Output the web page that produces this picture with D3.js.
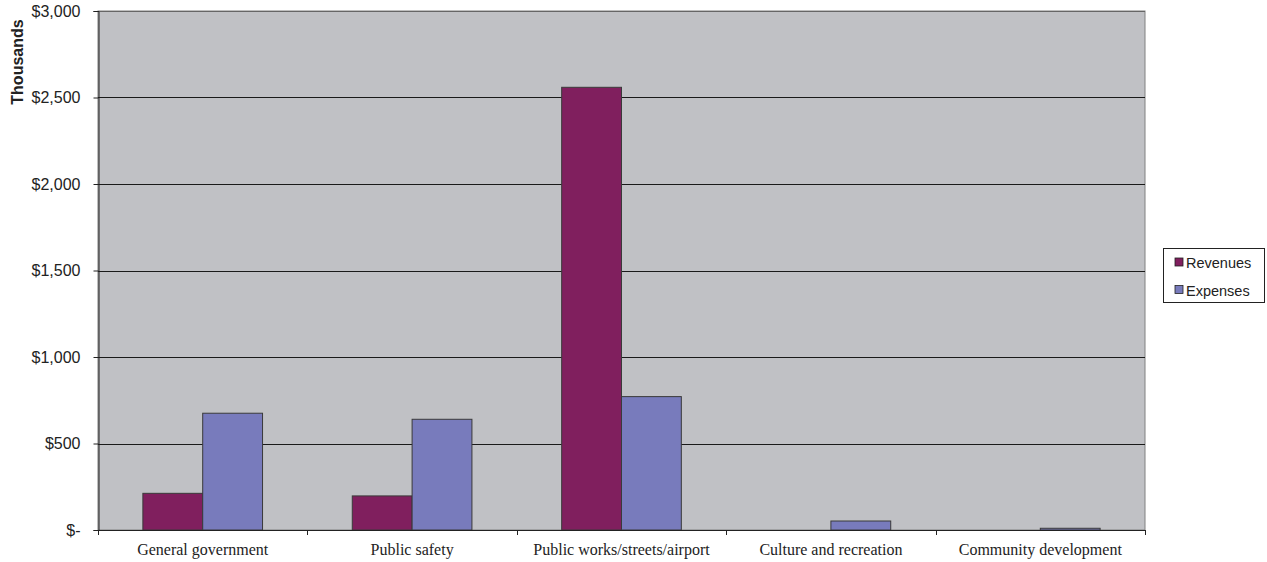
<!DOCTYPE html>
<html>
<head>
<meta charset="utf-8">
<script src="https://cdn.jsdelivr.net/npm/d3@7"></script>
<style>
  body { margin: 0; background: #fff; }
  svg { display: block; }
</style>
</head>
<body>
<div class="chart"></div>
<script>
// data (thousands of dollars)
var categories = ["General government", "Public safety", "Public works/streets/airport", "Culture and recreation", "Community development"];
var seriesNames = ["Revenues", "Expenses"];
var revenues = [212, 197, 2559, 0, 0];
var expenses = [675, 640, 771, 52, 10];
var yTicks = [0, 500, 1000, 1500, 2000, 2500, 3000];
var colors = ["#801f5e", "#787bbc"];

var width = 1267, height = 562;
// note: "top" is taken by window.top, so plot edges get their own names
var plotLeft = 98, plotRight = 1145, plotTop = 11, plotBottom = 530;

var svg = d3.select(".chart").append("svg")
    .attr("width", width)
    .attr("height", height);

var x0 = d3.scaleBand().domain(categories).range([plotLeft, plotRight]).padding(0);
var x1 = d3.scaleBand().domain(seriesNames).range([0, x0.bandwidth()])
    .paddingInner(0).paddingOuter(0.75);
var y = d3.scaleLinear().domain([0, 3000]).range([plotBottom, plotTop]);

// plot background
svg.append("rect")
    .attr("x", plotLeft).attr("y", plotTop)
    .attr("width", plotRight - plotLeft).attr("height", plotBottom - plotTop)
    .attr("fill", "#c0c1c5")
    .attr("stroke", "#808080").attr("stroke-width", 1);

// gridlines
svg.append("g").selectAll("line")
    .data(yTicks.filter(function(d){ return d > 0; }))
    .enter().append("line")
    .attr("x1", plotLeft).attr("x2", plotRight)
    .attr("y1", function(d){ return Math.round(y(d)) + 0.5; })
    .attr("y2", function(d){ return Math.round(y(d)) + 0.5; })
    .attr("stroke", function(d){ return d === 3000 ? "#666" : "#1a1a1a"; })
    .attr("stroke-width", 1);

// bars
var rows = categories.map(function(c, i) {
    return { cat: c, values: [revenues[i], expenses[i]] };
});

var groups = svg.append("g").selectAll("g")
    .data(rows).enter().append("g")
    .attr("transform", function(d){ return "translate(" + x0(d.cat) + ",0)"; });

groups.selectAll("rect")
    .data(function(d){ return d.values.map(function(v, j){ return { key: seriesNames[j], v: v, j: j }; }); })
    .enter().filter(function(d){ return d.v > 0; })
    .append("rect")
    .attr("x", function(d){ return x1(d.key); })
    .attr("width", x1.bandwidth())
    .attr("y", function(d){ return y(d.v); })
    .attr("height", function(d){ return plotBottom - y(d.v); })
    .attr("fill", function(d){ return colors[d.j]; })
    .attr("stroke", "#3a3a3a")
    .attr("stroke-width", 1);

// y axis
var yAxis = d3.axisLeft(y)
    .tickValues(yTicks)
    .tickSize(5)
    .tickPadding(13)
    .tickFormat(function(d){ return d === 0 ? "$-" : "$" + d3.format(",")(d); });

var ya = svg.append("g")
    .attr("transform", "translate(" + (plotLeft + 0.5) + ",0)")
    .call(yAxis);
ya.selectAll("text")
    .attr("font-family", "Arial, 'Liberation Sans', sans-serif")
    .attr("font-size", 16)
    .attr("fill", "#222");
ya.selectAll("line, path").attr("stroke", "#222");

// x axis: ticks on category boundaries
var xa = svg.append("g");
xa.append("line")
    .attr("x1", plotLeft).attr("x2", plotRight)
    .attr("y1", plotBottom + 0.5).attr("y2", plotBottom + 0.5)
    .attr("stroke", "#222");
var bounds = categories.map(function(c){ return x0(c); }).concat([plotRight]);
xa.selectAll(".tk").data(bounds).enter().append("line")
    .attr("class", "tk")
    .attr("x1", function(d){ return Math.round(d) + 0.5; })
    .attr("x2", function(d){ return Math.round(d) + 0.5; })
    .attr("y1", plotBottom).attr("y2", plotBottom + 5)
    .attr("stroke", "#222");
xa.selectAll("text").data(categories).enter().append("text")
    .attr("x", function(d){ return x0(d) + x0.bandwidth() / 2; })
    .attr("y", 555)
    .attr("text-anchor", "middle")
    .attr("font-family", "'Times New Roman', 'Liberation Serif', serif")
    .attr("font-size", 16)
    .attr("fill", "#222")
    .text(function(d){ return d; });

// axis title
svg.append("text")
    .attr("transform", "translate(23,62) rotate(-90)")
    .attr("text-anchor", "middle")
    .attr("font-family", "Arial, 'Liberation Sans', sans-serif")
    .attr("font-weight", "bold")
    .attr("font-size", 16)
    .attr("fill", "#222")
    .text("Thousands");

// legend
var legend = svg.append("g");
legend.append("rect")
    .attr("x", 1163.5).attr("y", 248.5)
    .attr("width", 101).attr("height", 54)
    .attr("fill", "#fff").attr("stroke", "#222");
var items = legend.selectAll("g.item").data(seriesNames).enter().append("g")
    .attr("class", "item")
    .attr("transform", function(d, i){ return "translate(1175," + (258 + i * 27.5) + ")"; });
items.append("rect")
    .attr("width", 8).attr("height", 8)
    .attr("fill", function(d, i){ return colors[i]; })
    .attr("stroke", "#222").attr("stroke-width", 0.8);
items.append("text")
    .attr("x", 11).attr("y", 10)
    .attr("font-family", "Arial, 'Liberation Sans', sans-serif")
    .attr("font-size", 14.5)
    .attr("fill", "#222")
    .text(function(d){ return d; });
</script>
</body>
</html>
